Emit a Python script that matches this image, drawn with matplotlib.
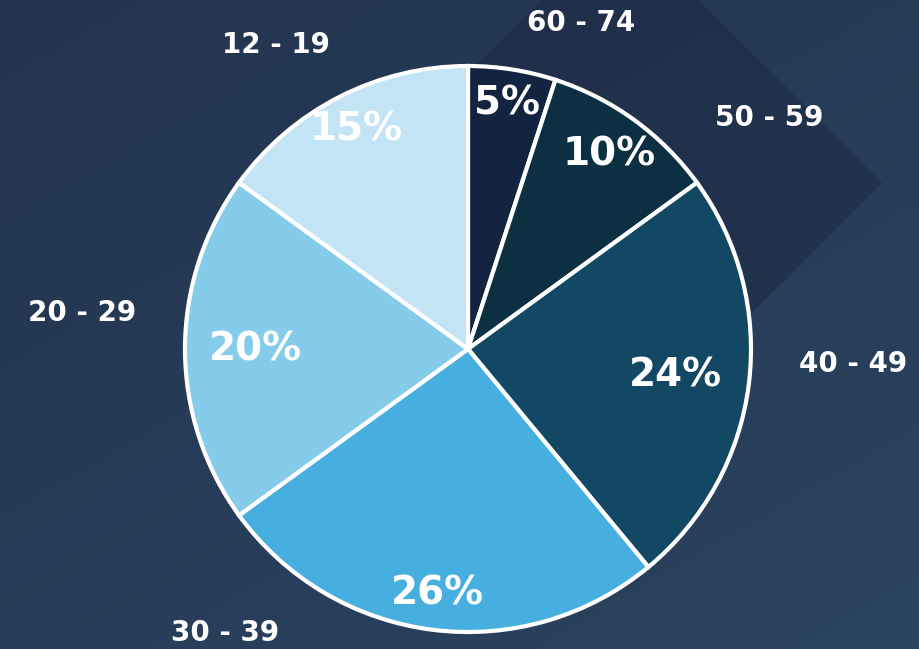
import numpy as np
import matplotlib.pyplot as plt
from matplotlib.patches import Polygon

# data, clockwise from 12 o'clock
ages = ["60 - 74", "50 - 59", "40 - 49", "30 - 39", "20 - 29", "12 - 19"]
shares = [5, 10, 24, 26, 20, 15]
colors = ["#12243f", "#0c3042", "#124863", "#47afdf", "#85cbea", "#c2e4f4"]

# layout (pixel space, y up)
W, H = 920, 649
cx, cy, r = 468, 649 - 349, 283
pct_dist = [0.88, 0.85, 0.74, 0.87, 0.75, 0.87]
# outside label positions as (angle in deg, distance in radii)
label_pos = [(70.8, 1.22), (37.5, 1.34), (-2.2, 1.36), (-130.5, 1.32), (174.7, 1.37), (122.3, 1.27)]

fig = plt.figure(figsize=(W / 100, H / 100), dpi=100)
ax = fig.add_axes([0, 0, 1, 1])

# background gradient, darker top-left, lighter bottom-right
gx, gy = np.meshgrid(np.linspace(0, 1, 200), np.linspace(0, 1, 140))
t = 0.45 * gx + 0.55 * gy
c0 = np.array([0x23, 0x34, 0x4e]) / 255
c1 = np.array([0x2b, 0x44, 0x61]) / 255
img = c0[None, None, :] * (1 - t[..., None]) + c1[None, None, :] * t[..., None]
ax.imshow(img, extent=[0, W, 0, H], origin="upper", aspect="auto", zorder=0)

# faint diamond behind the pie
ax.add_patch(Polygon([(620, H + 79), (882, H - 183), (620, H - 445), (358, H - 183)],
                     closed=True, facecolor="#1d2b44", alpha=0.6, edgecolor="none", zorder=1))

wedges, _ = ax.pie(shares, colors=colors, startangle=90, counterclock=False,
                   center=(cx, cy), radius=r, frame=True,
                   wedgeprops=dict(edgecolor="white", linewidth=3, zorder=2))
ax.set_xlim(0, W)
ax.set_ylim(0, H)
ax.axis("off")

for w, v, d in zip(wedges, shares, pct_dist):
    mid = np.deg2rad((w.theta1 + w.theta2) / 2)
    ax.text(cx + d * r * np.cos(mid), cy + d * r * np.sin(mid), f"{v}%",
            ha="center", va="center", color="white", fontsize=28,
            fontweight="bold", family="DejaVu Sans", zorder=3)

for lab, (a, d) in zip(ages, label_pos):
    a = np.deg2rad(a)
    ax.text(cx + d * r * np.cos(a), cy + d * r * np.sin(a), lab,
            ha="center", va="center", color="white", fontsize=20,
            fontweight="bold", family="DejaVu Sans", zorder=3)

fig.savefig("out.png", dpi=100)
